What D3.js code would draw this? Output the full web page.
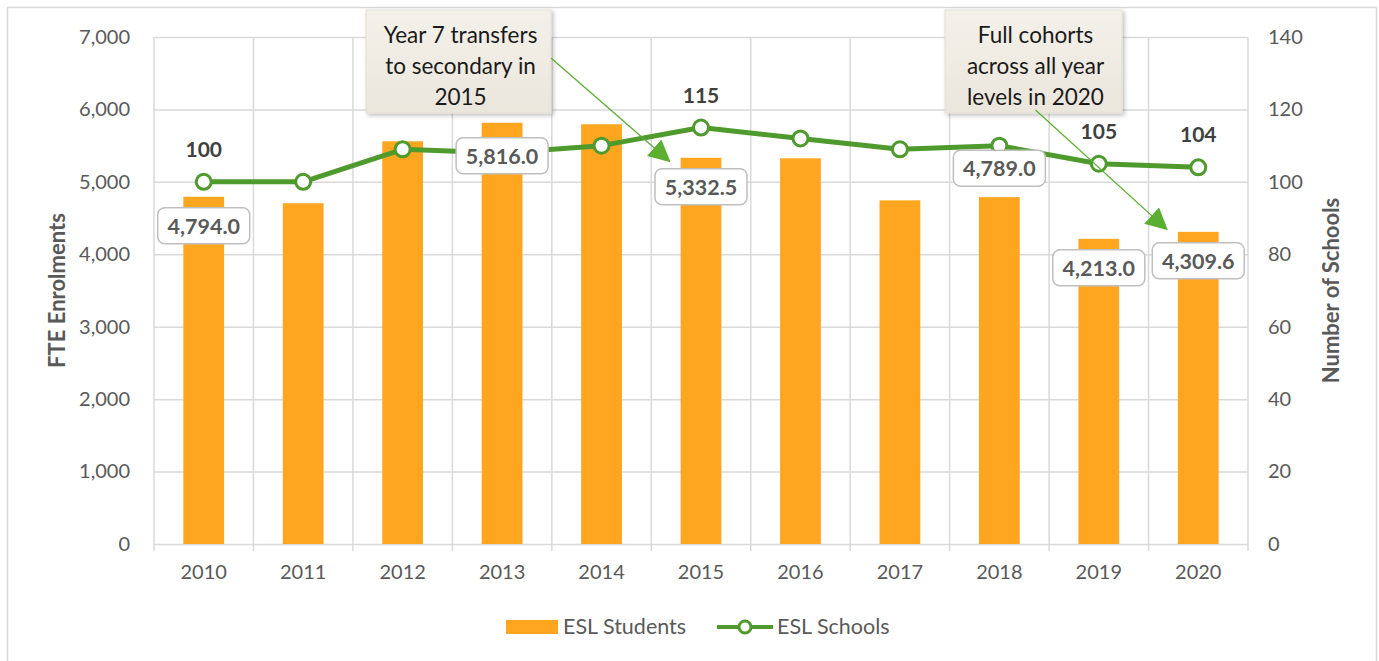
<!DOCTYPE html>
<html>
<head>
<meta charset="utf-8">
<script src="https://cdn.jsdelivr.net/npm/d3@7"></script>
<style>
    body { margin: 0; background: #fff; }
    svg text { font-family: Lato, "Open Sans", sans-serif; }
</style>
</head>
<body>
<div id="chart"></div>
<script>
// data
var years = ["2010", "2011", "2012", "2013", "2014", "2015", "2016", "2017", "2018", "2019", "2020"];
var students = [4794.0, 4705, 5560, 5816.0, 5795, 5332.5, 5325, 4745, 4789.0, 4213.0, 4309.6];
var schools = [100, 100, 109, 108, 110, 115, 112, 109, 110, 105, 104];
var studentLabelYears = ["2010", "2013", "2015", "2018", "2019", "2020"];
var schoolLabelYears = ["2010", "2015", "2019", "2020"];
var leftTicks = [0, 1000, 2000, 3000, 4000, 5000, 6000, 7000];
var rightTicks = [0, 20, 40, 60, 80, 100, 120, 140];
var notes = [
    { lines: ["Year 7 transfers", "to secondary in", "2015"], target: "2015" },
    { lines: ["Full cohorts", "across all year", "levels in 2020"], target: "2020" }
];

var width = 1379, height = 661;
var margin = { top: 37, right: 131, bottom: 117, left: 154 };

var data = years.map((y, i) => ({ year: y, students: students[i], schools: schools[i] }));

var svg = d3.select("#chart").append("svg")
    .attr("width", width)
    .attr("height", height);

var defs = svg.append("defs");
var grad = defs.append("linearGradient").attr("id", "noteFill")
    .attr("x1", 0).attr("y1", 0).attr("x2", 0).attr("y2", 1);
grad.append("stop").attr("offset", 0).attr("stop-color", "#f4f1ea");
grad.append("stop").attr("offset", 1).attr("stop-color", "#ebe6dc");
defs.append("filter").attr("id", "shadow")
    .attr("x", -0.1).attr("y", -0.1).attr("width", 1.3).attr("height", 1.3)
    .append("feDropShadow")
    .attr("dx", 2).attr("dy", 2).attr("stdDeviation", 2)
    .attr("flood-color", "#000").attr("flood-opacity", 0.25);
defs.append("marker").attr("id", "arrow")
    .attr("viewBox", "0 0 10 10").attr("refX", 9).attr("refY", 5)
    .attr("markerWidth", 22).attr("markerHeight", 22)
    .attr("markerUnits", "userSpaceOnUse")
    .attr("orient", "auto")
    .append("path").attr("d", "M0,0 L10,5 L0,10 z").attr("fill", "#5aaf30");

// outer frame
svg.append("rect")
    .attr("x", 7.5).attr("y", 7.5)
    .attr("width", 1369).attr("height", 660)
    .attr("fill", "none").attr("stroke", "#d9d9d9").attr("stroke-width", 1.5);

var x = d3.scaleBand()
    .domain(years)
    .range([margin.left, width - margin.right])
    .paddingInner(0.59)
    .paddingOuter(0.295);

var band = d3.scaleBand().domain(years).range([margin.left, width - margin.right]);

var y = d3.scaleLinear()
    .domain([0, 7000])
    .range([height - margin.bottom, margin.top]);

var y2 = d3.scaleLinear()
    .domain([0, 140])
    .range([height - margin.bottom, margin.top]);

var fmt = d3.format(",.1f");
var grid = "#d9d9d9", tickColor = "#595959";

// horizontal grid
svg.append("g")
    .selectAll("line")
    .data(leftTicks)
    .enter()
    .append("line")
    .attr("x1", margin.left).attr("x2", width - margin.right)
    .attr("y1", d => y(d) + 0.5).attr("y2", d => y(d) + 0.5)
    .attr("stroke", grid).attr("stroke-width", 1.5);

// vertical grid (category boundaries)
var bounds = years.map(d => band(d)).concat([width - margin.right]);
svg.append("g")
    .selectAll("line")
    .data(bounds)
    .enter()
    .append("line")
    .attr("x1", d => d).attr("x2", d => d)
    .attr("y1", margin.top).attr("y2", height - margin.bottom + 7)
    .attr("stroke", grid).attr("stroke-width", 1.5);

// bars
svg.append("g")
    .selectAll("rect")
    .data(data)
    .enter()
    .append("rect")
    .attr("fill", "#ffa620")
    .attr("x", d => x(d.year))
    .attr("y", d => y(d.students))
    .attr("width", x.bandwidth())
    .attr("height", d => y(0) - y(d.students));

// left axis
var gy = svg.append("g")
    .attr("transform", `translate(${margin.left},0)`)
    .call(d3.axisLeft(y).tickValues(leftTicks).tickFormat(d3.format(",")).tickSize(0).tickPadding(24));
gy.select(".domain").remove();
gy.selectAll("text").attr("fill", tickColor).style("font-size", "20px");

// right axis
var gy2 = svg.append("g")
    .attr("transform", `translate(${width - margin.right},0)`)
    .call(d3.axisRight(y2).tickValues(rightTicks).tickSize(0).tickPadding(20));
gy2.select(".domain").remove();
gy2.selectAll("text").attr("fill", tickColor).style("font-size", "20px");

// bottom axis
var gx = svg.append("g")
    .attr("transform", `translate(0,${height - margin.bottom})`)
    .call(d3.axisBottom(band).tickSize(0).tickPadding(21));
gx.select(".domain").remove();
gx.selectAll("text").attr("fill", tickColor).style("font-size", "20px");

// axis titles
svg.append("text")
    .attr("transform", `translate(65,${y(3500)}) rotate(-90)`)
    .attr("text-anchor", "middle")
    .attr("fill", tickColor).attr("font-weight", "bold").style("font-size", "22px")
    .text("FTE Enrolments");
svg.append("text")
    .attr("transform", `translate(1339,${y(3500)}) rotate(-90)`)
    .attr("text-anchor", "middle")
    .attr("fill", tickColor).attr("font-weight", "bold").style("font-size", "22px")
    .text("Number of Schools");

// line
var cx = d => band(d.year) + band.bandwidth() / 2;
var line = d3.line().x(cx).y(d => y2(d.schools));
svg.append("path")
    .datum(data)
    .attr("fill", "none")
    .attr("stroke", "#4f9a2c")
    .attr("stroke-width", 5)
    .attr("stroke-linejoin", "round")
    .attr("d", line);
svg.append("g")
    .selectAll("circle")
    .data(data)
    .enter()
    .append("circle")
    .attr("cx", cx)
    .attr("cy", d => y2(d.schools))
    .attr("r", 7.5)
    .attr("fill", "#fff")
    .attr("stroke", "#4f9a2c")
    .attr("stroke-width", 3);

// school labels
svg.append("g")
    .selectAll("text")
    .data(data.filter(d => schoolLabelYears.includes(d.year)))
    .enter()
    .append("text")
    .attr("x", cx)
    .attr("y", d => y2(d.schools) - 25)
    .attr("text-anchor", "middle")
    .attr("fill", "#404040").attr("font-weight", "bold").style("font-size", "21px")
    .text(d => d.schools);

// annotations
notes.forEach((n, i) => {
    var bx = i === 0 ? 366 : 945, bw = i === 0 ? 185 : 177;
    var g = svg.append("g");
    g.append("rect")
        .attr("x", bx).attr("y", 10).attr("width", bw).attr("height", 103)
        .attr("fill", "url(#noteFill)")
        .attr("stroke", "#e4dfd4").attr("stroke-width", 1)
        .attr("filter", "url(#shadow)");
    n.lines.forEach((t, j) => {
        g.append("text")
            .attr("x", bx + bw / 2 + 2)
            .attr("y", 43 + j * 31)
            .attr("text-anchor", "middle")
            .attr("fill", "#1a1a1a").style("font-size", "22.5px")
            .text(t);
    });
    var d = data.find(e => e.year === n.target);
    var sx = i === 0 ? bx + bw : bx + bw / 2 + 2;
    var sy = i === 0 ? 58 : 110;
    svg.append("line")
        .attr("x1", sx).attr("y1", sy)
        .attr("x2", cx(d) - 32).attr("y2", y(d.students) - (i === 0 ? -3 : 3))
        .attr("stroke", "#5aaf30").attr("stroke-width", 1.3)
        .attr("marker-end", "url(#arrow)");
});

// student labels
var labs = svg.append("g")
    .selectAll("g")
    .data(data.filter(d => studentLabelYears.includes(d.year)))
    .enter()
    .append("g")
    .attr("transform", d => {
        var off = d.year === "2018" ? -29 : (d.year === "2013" ? 33 : 29);
        return `translate(${cx(d)},${y(d.students) + off})`;
    });
labs.append("rect")
    .attr("x", -46).attr("y", -18).attr("width", 92).attr("height", 36)
    .attr("rx", 7)
    .attr("fill", "#fff").attr("stroke", "#bfbfbf").attr("stroke-width", 1.5);
labs.append("text")
    .attr("y", 8)
    .attr("text-anchor", "middle")
    .attr("fill", "#595959").attr("font-weight", "bold").style("font-size", "21.5px")
    .text(d => fmt(d.students));

// legend
var lg = svg.append("g").attr("transform", "translate(0,627)");
lg.append("rect").attr("x", 506).attr("y", -7).attr("width", 52).attr("height", 14).attr("fill", "#ffa620");
lg.append("text").attr("x", 563).attr("y", 7).attr("fill", tickColor).style("font-size", "21.5px").text("ESL Students");
lg.append("line").attr("x1", 717).attr("x2", 773).attr("y1", 0).attr("y2", 0)
    .attr("stroke", "#4f9a2c").attr("stroke-width", 4);
lg.append("circle").attr("cx", 745).attr("cy", 0).attr("r", 6)
    .attr("fill", "#fff").attr("stroke", "#4f9a2c").attr("stroke-width", 3);
lg.append("text").attr("x", 777).attr("y", 7).attr("fill", tickColor).style("font-size", "21.5px").text("ESL Schools");
</script>
</body>
</html>
